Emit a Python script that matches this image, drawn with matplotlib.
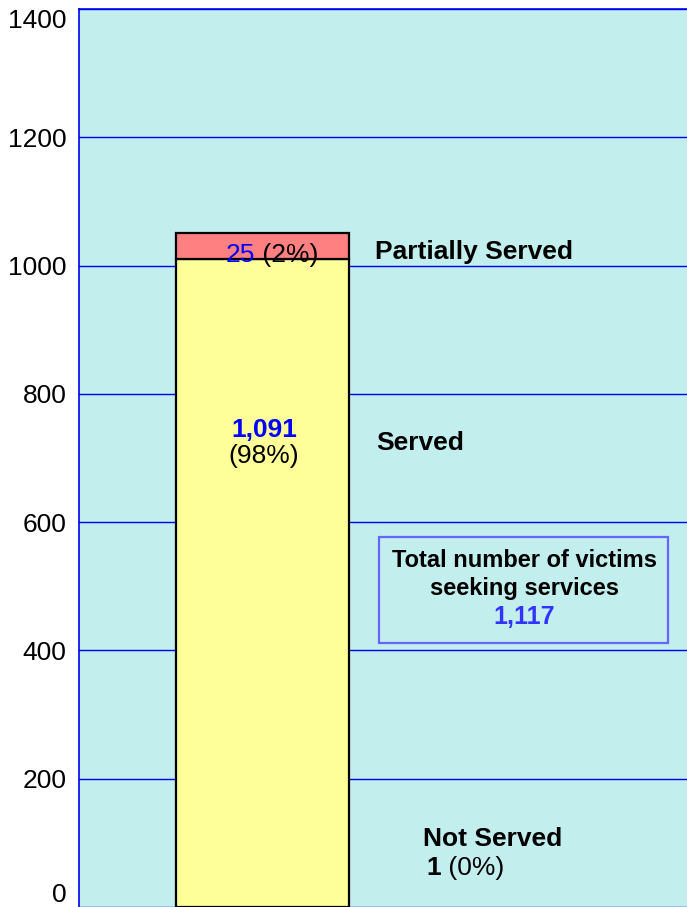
import matplotlib
matplotlib.use("Agg")
import matplotlib.pyplot as plt

# ---- data ----
categories = ["Victims"]
served_bar = [1011]          # drawn height of the "Served" segment
partial_bar = [39]           # drawn height of the "Partially Served" segment
served_label = "1,091"
served_pct = "(98%)"
partial_label = "25"
partial_pct = " (2%)"
not_served_label = "1"
not_served_pct = " (0%)"
total_label = "1,117"
yticks = [0, 200, 400, 600, 800, 1000, 1200, 1400]

W, H = 687, 907
fig = plt.figure(figsize=(W / 100, H / 100), dpi=100)
fig.patch.set_facecolor("white")
plt.rcParams["font.family"] = ["Liberation Sans", "DejaVu Sans"]

ax = fig.add_axes([79 / W, 0, (W - 79) / W, (H - 9) / H])
ax.set_facecolor("#C2EEEE")

x = list(range(len(categories)))
ax.bar(x, served_bar, width=1.0, color="#FFFF99", edgecolor="black", linewidth=1.6, zorder=3)
ax.bar(x, partial_bar, bottom=served_bar, width=1.0, color="#FF8080", edgecolor="black",
       linewidth=1.6, zorder=3)

ax.set_xlim(-1.061, 2.454)
ax.set_ylim(0, 1400)
ax.set_xticks([])
ax.set_yticks(yticks)
ax.set_yticklabels([str(v) for v in yticks], fontsize=19)
ax.tick_params(axis="y", length=0, pad=9)
ax.yaxis.grid(True, color="#0000EE", linewidth=1.0, zorder=1)
ax.set_axisbelow(True)
for s in ["right", "bottom"]:
    ax.spines[s].set_visible(False)
ax.spines["left"].set_color("#0000EE")
ax.spines["top"].set_color("#0000EE")
ax.spines["left"].set_linewidth(1.2)
ax.spines["top"].set_linewidth(1.2)
labels = ax.get_yticklabels()
labels[-1].set_va("top")
labels[0].set_va("bottom")


def px(xp, yp):
    return xp / W, 1 - yp / H


fs = 19
# Partially served label inside the pink segment
fig.text(*px(255, 262), partial_label, color="#0000FF", fontsize=fs, ha="right", va="baseline")
fig.text(*px(255, 262), partial_pct, color="black", fontsize=fs, ha="left", va="baseline")
fig.text(*px(375, 259), "Partially Served", color="black", fontsize=fs, fontweight="bold",
         ha="left", va="baseline")

# Served label
fig.text(*px(264, 437), served_label, color="#0000FF", fontsize=fs, fontweight="bold",
         ha="center", va="baseline")
fig.text(*px(264, 463), served_pct, color="black", fontsize=fs, ha="center", va="baseline")
fig.text(*px(376, 450), "Served", color="black", fontsize=fs, fontweight="bold",
         ha="left", va="baseline")

# Total box
box = plt.Rectangle(px(379, 643), (668 - 379) / W, (643 - 537) / H, transform=fig.transFigure,
                    facecolor="none", edgecolor="#6666FF", linewidth=1.6)
fig.patches.append(box)
fig.text(*px(524, 567), "Total number of victims", color="black", fontsize=17,
         fontweight="bold", ha="center", va="baseline")
fig.text(*px(524, 595), "seeking services", color="black", fontsize=17,
         fontweight="bold", ha="center", va="baseline")
fig.text(*px(524, 624), total_label, color="#3333FF", fontsize=18,
         fontweight="bold", ha="center", va="baseline")

# Not served
fig.text(*px(423, 846), "Not Served", color="black", fontsize=fs, fontweight="bold",
         ha="left", va="baseline")
fig.text(*px(441, 875), not_served_label, color="black", fontsize=fs, fontweight="bold",
         ha="right", va="baseline")
fig.text(*px(441, 875), not_served_pct, color="black", fontsize=fs, ha="left", va="baseline")

fig.savefig("out.png", dpi=100, facecolor="white")
